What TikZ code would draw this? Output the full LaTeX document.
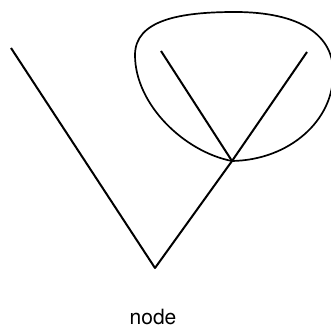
\documentclass[tikz,border=0pt]{standalone}
\usepackage{fontspec}
\setmainfont{TeX Gyre Heros}
\usetikzlibrary{calc}

\begin{document}
\begin{tikzpicture}[x=1pt,y=-1pt,line width=2pt,line join=round]
    \useasboundingbox (0,0) rectangle (331,328);
    \clip (0,0) rectangle (331,328);

    \coordinate (lefttop) at (11,48);
    \coordinate (root) at (155,268);
    \coordinate (fork) at (232,161);
    \coordinate (branchA) at (161,51);
    \coordinate (branchB) at (307,52);

    \draw (lefttop) -- (root) -- (fork);
    \draw (fork) -- (branchA);
    \draw (fork) -- (branchB);

    % the loop round the upper branches
    \draw[line width=1.7pt] (fork) .. controls (185,152) and (135,105) .. (135,55)
         .. controls (135,20) and (180,12) .. (235,12)
         .. controls (300,12) and (335,35) .. (333,75)
         .. controls (333,120) and (290,160) .. (fork);

    \node[font=\fontsize{21}{24}\selectfont] (label) at (153,317) {node};
\end{tikzpicture}
\end{document}
